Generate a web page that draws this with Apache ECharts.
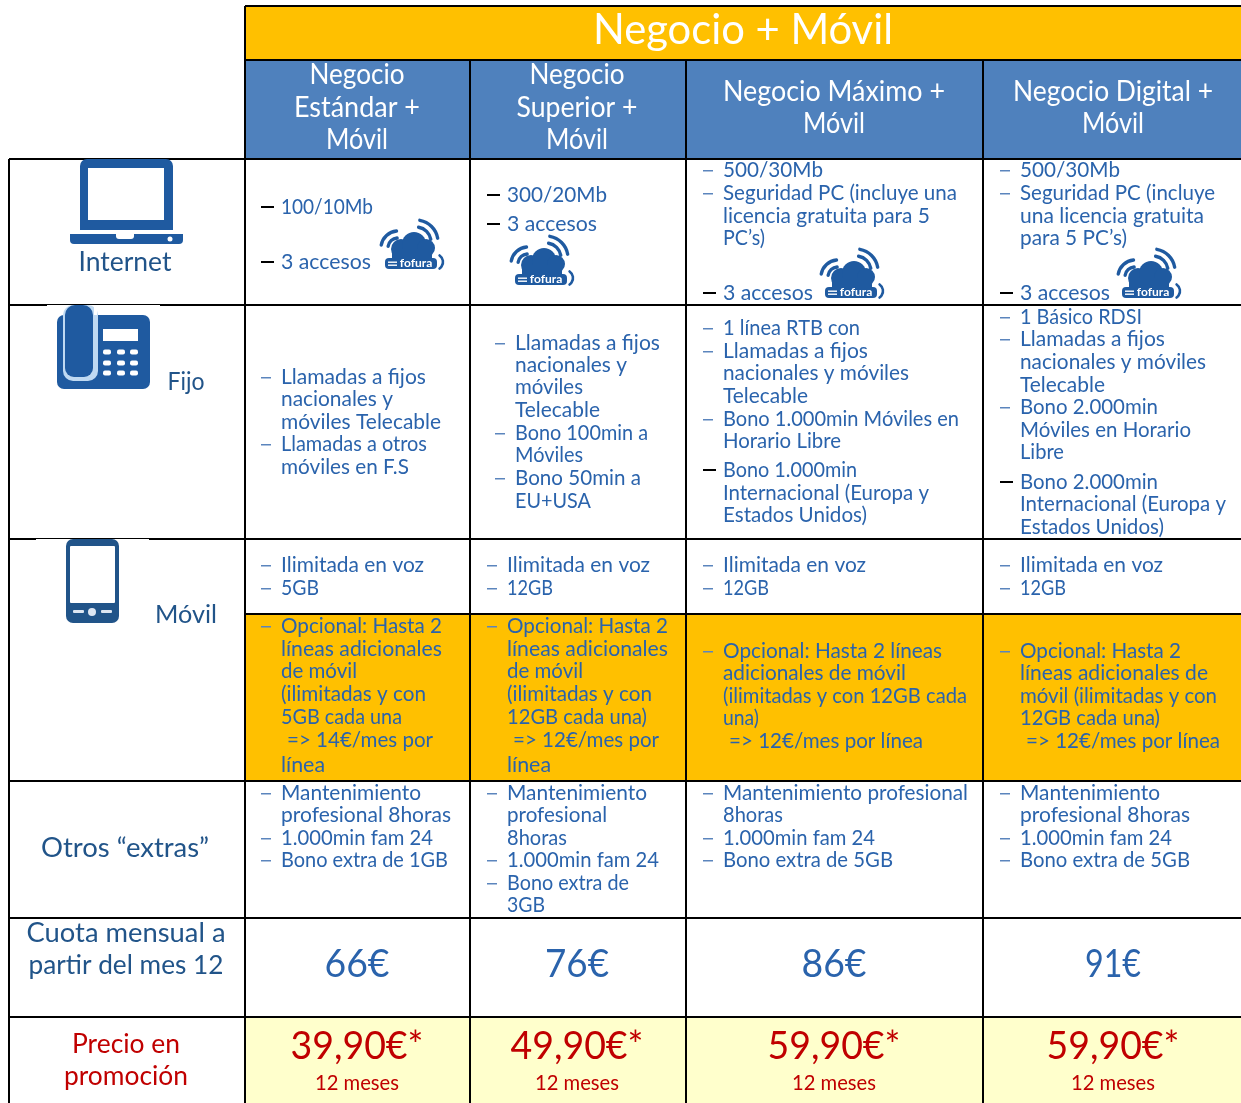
<!DOCTYPE html>
<html><head><meta charset="utf-8">
<style>html,body{margin:0;padding:0;background:#fff;overflow:hidden}#c{width:1241px;height:1103px}</style>
<script src="https://cdn.jsdelivr.net/npm/echarts@6/dist/echarts.min.js"></script>
</head><body><div id="c"></div>
<script>
// ---------- content ----------
const titleText = 'Negocio + Móvil';
const planHeaders = [
  ['Negocio','Estándar +','Móvil'],
  ['Negocio','Superior +','Móvil'],
  ['Negocio Máximo +','Móvil'],
  ['Negocio Digital +','Móvil']
];
// "- " = blue dash, "# " = black dash
const internetCells = [
  ['# 100/10Mb','# 3 accesos'],
  ['# 300/20Mb','# 3 accesos'],
  ['- 500/30Mb','- Seguridad PC (incluye una','licencia gratuita para 5','PC’s)','# 3 accesos'],
  ['- 500/30Mb','- Seguridad PC (incluye','una licencia gratuita','para 5 PC’s)','# 3 accesos']
];
const fijoCells = [
  ['- Llamadas a fijos','nacionales y','móviles Telecable','- Llamadas a otros','móviles en F.S'],
  ['- Llamadas a fijos','nacionales y','móviles','Telecable','- Bono 100min a','Móviles','- Bono 50min a','EU+USA'],
  ['- 1 línea RTB con','- Llamadas a fijos','nacionales y móviles','Telecable','- Bono 1.000min Móviles en','Horario Libre','# Bono 1.000min','Internacional (Europa y','Estados Unidos)'],
  ['- 1 Básico RDSI','- Llamadas a fijos','nacionales y móviles','Telecable','- Bono 2.000min','Móviles en Horario','Libre','# Bono 2.000min','Internacional (Europa y','Estados Unidos)']
];
const movilCells = [
  ['- Ilimitada en voz','- 5GB'],
  ['- Ilimitada en voz','- 12GB'],
  ['- Ilimitada en voz','- 12GB'],
  ['- Ilimitada en voz','- 12GB']
];
const opcionalCells = [
  ['- Opcional: Hasta 2','líneas adicionales','de móvil','(ilimitadas y con','5GB cada una',' => 14€/mes por','línea'],
  ['- Opcional: Hasta 2','líneas adicionales','de móvil','(ilimitadas y con','12GB cada una)',' => 12€/mes por','línea'],
  ['- Opcional: Hasta 2 líneas','adicionales de móvil','(ilimitadas y con 12GB cada','una)',' => 12€/mes por línea'],
  ['- Opcional: Hasta 2','líneas adicionales de','móvil (ilimitadas y con','12GB cada una)',' => 12€/mes por línea']
];
const extrasCells = [
  ['- Mantenimiento','profesional 8horas','- 1.000min fam 24','- Bono extra de 1GB'],
  ['- Mantenimiento','profesional','8horas','- 1.000min fam 24','- Bono extra de','3GB'],
  ['- Mantenimiento profesional','8horas','- 1.000min fam 24','- Bono extra de 5GB'],
  ['- Mantenimiento','profesional 8horas','- 1.000min fam 24','- Bono extra de 5GB']
];
const rowLabels = ['Internet','Fijo','Móvil','Otros “extras”','Cuota mensual a','partir del mes 12'];
const promoLabels = ['Precio en','promoción'];
const monthlyFees = ['66€','76€','86€','91€'];
const promoPrices = ['39,90€*','49,90€*','59,90€*','59,90€*'];
const promoTerm = '12 meses';

// ---------- layout (pixels of the page) ----------
const W = 1241, H = 1103;
const colCenters = [357,577,834,1113];
const textX = [281,507,723,1020];
const dashX = [260,486,702,999];
const fijoTextX = [281,515,723,1020];
const fijoDashX = [260,494,702,999];
const internetY = [[207,262],[195,224],[170,193,216,238,293],[170,193,216,238,293]];
const fijoY = [[377,399,422,444,467],[343,365,387,410,433,455,478,501],[328,351,373,396,419,441,470,493,515],[317,339,362,385,407,430,452,482,504,527]];
const movilY = [[565,588],[565,588],[565,588],[565,588]];
const opcionalY = [[626,649,671,694,717,740,765],[626,649,671,694,717,740,765],[651,673,696,718,741],[651,673,696,718,741]];
const extrasY = [[793,815,838,860],[793,815,838,860,883,905],[793,815,838,860],[793,815,838,860]];
const headerY = [[75,108,140],[75,108,140],[92,124],[92,124]];
const cloudPos = [[380,219],[510,235],[820,248],[1117,248]];
const fills = [
  [245,6,1241,60,'#FFC000'],[245,60,1241,159,'#4F81BD'],
  [245,614,1241,781,'#FFC000'],[245,1017,1241,1103,'#FFFFCC']
];
const hLines = [[245,1241,6],[245,1241,60],[9,1241,159],[9,1241,305],[9,1241,539],[245,1241,614],[9,1241,781],[9,1241,918],[9,1241,1017]];
const vLines = [[9,159,1103],[245,6,1103],[470,60,1103],[686,60,1103],[983,60,1103]];
// widths the lines take up in the reference
const fitWidths = {
  'Negocio + Móvil':300,'Negocio':95,'Estándar +':126,'Superior +':121,'Móvil':62,'Negocio Máximo +':222,'Negocio Digital +':200,
  '100/10Mb':92,'300/20Mb':100,'500/30Mb':100,'3 accesos':90,'Seguridad PC (incluye una':234,'licencia gratuita para 5':207,
  'Seguridad PC (incluye':195,'una licencia gratuita':184,'para 5 PC’s)':107,'PC’s)':42,
  'Llamadas a fijos':145,'nacionales y':112,'móviles Telecable':160,'Llamadas a otros':146,'móviles en F.S':128,'móviles':68,'Telecable':85,
  'Bono 100min a':133,'Móviles':68,'Bono 50min a':126,'EU+USA':76,'1 línea RTB con':137,'nacionales y móviles':186,
  'Bono 1.000min Móviles en':236,'Horario Libre':118,'Bono 1.000min':134,'Internacional (Europa y':206,'Estados Unidos)':144,
  '1 Básico RDSI':122,'Bono 2.000min':138,'Móviles en Horario':171,'Libre':44,'Ilimitada en voz':143,'5GB':38,'12GB':46,
  'Opcional: Hasta 2':161,'líneas adicionales':161,'de móvil':76,'(ilimitadas y con':145,'5GB cada una':121,'12GB cada una)':140,
  '=> 14€/mes por':146,'=> 12€/mes por':146,'línea':44,'Opcional: Hasta 2 líneas':219,'adicionales de móvil':183,
  '(ilimitadas y con 12GB cada':244,'una)':36,'=> 12€/mes por línea':194,'líneas adicionales de':188,'móvil (ilimitadas y con':197,
  'Mantenimiento':140,'profesional 8horas':170,'1.000min fam 24':152,'Bono extra de 1GB':167,'profesional':100,'8horas':60,
  'Bono extra de':122,'3GB':38,'Mantenimiento profesional':245,'Bono extra de 5GB':170,
  'Internet':93,'Fijo':37,'Otros “extras”':168,'Cuota mensual a':199,'partir del mes 12':195,'Precio en':108,'promoción':124,
  '66€':65,'76€':64,'86€':65,'91€':56,'39,90€*':133,'49,90€*':133,'59,90€*':133,'12 meses':84
};

const FONT = 'Lato, "Noto Sans", sans-serif';
const BLUE = '#2A63AC', NAVY = '#215489', RED = '#C00000', ICON = '#1F5AA0';
const meter = document.createElement('canvas').getContext('2d');

// ---------- collect text lines ----------
const textRows = [];
function addText(x,y,text,size,color,align){
  const font = size+'px '+FONT;
  meter.font = font;
  const target = fitWidths[text];
  const sx = target ? target/meter.measureText(text).width : 1;
  textRows.push({value:[x,y],text,font,sx,color,align:align||'left'});
}
const dashRows = [];
function addCells(cells, ys, tx, dx){
  cells.forEach((lines,c)=>lines.forEach((s,i)=>{
    const y = ys[c][i];
    let t = s;
    if (s.startsWith('- ')) { dashRows.push({value:[dx[c],y+1],black:false}); t = s.slice(2); }
    else if (s.startsWith('# ')) { dashRows.push({value:[dx[c],y],black:true}); t = s.slice(2); }
    let x = tx[c];
    if (t.startsWith(' ')) { x += 6; t = t.trim(); }
    addText(x,y,t,21.5,BLUE);
  }));
}
addCells(internetCells, internetY, textX, dashX);
addCells(fijoCells, fijoY, fijoTextX, fijoDashX);
addCells(movilCells, movilY, textX, dashX);
addCells(opcionalCells, opcionalY, textX, dashX);
addCells(extrasCells, extrasY, textX, dashX);
addText(743,30,titleText,43,'#fff','center');
planHeaders.forEach((ls,c)=>ls.forEach((s,i)=>addText(colCenters[c],headerY[c][i],s,28,'#fff','center')));
[[125,263,26],[186,382,25],[186,615,25],[125,848,27],[126,933,27],[126,965,26.5]].forEach((p,i)=>addText(p[0],p[1],rowLabels[i],p[2],NAVY,'center'));
addText(126,1045,promoLabels[0],26,RED,'center');
addText(126,1077,promoLabels[1],26,RED,'center');
monthlyFees.forEach((s,c)=>addText(colCenters[c],964,s,39,BLUE,'center'));
promoPrices.forEach((s,c)=>{addText(colCenters[c],1046,s,39,RED,'center');addText(colCenters[c],1083,promoTerm,21,RED,'center');});

const iconRows = [
  {value:[70,159],name:'laptop'},{value:[57,305],name:'phone'},{value:[66,539],name:'mobile'}
].concat(cloudPos.map(p=>({value:p,name:'cloud'})));

// ---------- icon drawings (offsets from each icon's origin) ----------
const R=(x,y,w,h,f,r)=>({type:'rect',shape:{x,y,width:w,height:h,r:r||0},style:{fill:f}});
const A=(cx,cy,r,a,b,lw,c)=>({type:'arc',shape:{cx,cy,r,startAngle:a*Math.PI/180,endAngle:b*Math.PI/180,clockwise:true},style:{stroke:c||ICON,lineWidth:lw,fill:null,lineCap:'round'}});
const C=(cx,cy,r,f)=>({type:'circle',shape:{cx,cy,r},style:{fill:f}});
function iconChildren(name){
  if(name==='laptop') return [
    R(10,0,93,71,ICON,[7,7,0,0]), R(18,9,76,52,'#fff'),
    R(0,75,113,10,ICON,[0,0,4,4]), R(46,75,18,5,'#fff',[0,0,3,3]), C(100,80,2.5,'#fff')
  ];
  if(name==='phone'){
    const k=[]; [50,64,77].forEach(x=>[47,58,68].forEach(y=>k.push(R(x-4,y-2.5,8,5,'#fff',2))));
    return [R(-10,0,113,1,'#fff'),R(0,10,93,74,ICON,7), R(6,0,35,76,'#BFD9F2',10), R(8,0,28,72,ICON,[10,10,9,9]),
      R(37,0,3,10,'#fff'),R(46,24,35,12,'#fff')].concat(k);
  }
  if(name==='mobile') return [
    R(-30,0,113,1,'#fff'),
    R(0,0,53,84,NAVY,7), R(4,7,45,57,'#fff',1),
    R(7,71,11,3,'#DDE6F2',1), C(26,73,4,'#DDE6F2'), R(35,71,11,3,'#DDE6F2',1)
  ];
  // cloud logo
  return [
    C(21,30,10,ICON),C(34,25,12,ICON),C(46,29,9,ICON),R(12,30,40,10,ICON),
    A(18,29,17,190,265,3.4),A(18,29,10,190,265,3.4),
    A(36,23,22,280,350,3.4),A(36,23,15,280,350,3.4),
    R(5,39,52,11,ICON,4),
    A(55,43,8,-55,55,2.6),
    R(8,42.5,9,1.4,'#fff'),R(8,45.5,9,1.4,'#fff'),
    {type:'text',style:{x:36,y:44.5,text:'fofura',fill:'#fff',font:'bold 12px '+FONT,textAlign:'center',textVerticalAlign:'middle'}}
  ];
}

const chart = echarts.init(document.getElementById('c'),null,{renderer:'canvas',width:W,height:H});
const pt = (api,x,y)=>api.coord([x,y]);
chart.setOption({
  animation:false,
  backgroundColor:'#fff',
  grid:{left:0,right:0,top:0,bottom:0},
  xAxis:{type:'value',min:0,max:W,show:false},
  yAxis:{type:'value',min:0,max:H,inverse:true,show:false},
  tooltip:{show:false},
  series:[
    {type:'custom',name:'fills',coordinateSystem:'cartesian2d',silent:true,clip:false,
     data:fills.map(f=>f.slice(0,4)),
     renderItem(p,api){const f=fills[p.dataIndex];const a=pt(api,f[0],f[1]),b=pt(api,f[2],f[3]);
       return {type:'rect',shape:{x:a[0],y:a[1],width:b[0]-a[0],height:b[1]-a[1]},style:{fill:f[4]}};}},
    {type:'custom',name:'rules',silent:true,clip:false,z:3,
     data:hLines.map(l=>[l[0],l[2],l[1],l[2]]).concat(vLines.map(l=>[l[0],l[1],l[0],l[2]])),
     renderItem(p,api){const a=pt(api,api.value(0),api.value(1)),b=pt(api,api.value(2),api.value(3));
       return {type:'line',shape:{x1:a[0],y1:a[1],x2:b[0],y2:b[1]},style:{stroke:'#000',lineWidth:2}};}},
    {type:'custom',name:'icons',silent:true,clip:false,z:4,
     data:iconRows.map(d=>d.value),
     renderItem(p,api){const a=pt(api,api.value(0),api.value(1));
       return {type:'group',x:a[0],y:a[1],children:iconChildren(iconRows[p.dataIndex].name)};}},
    {type:'custom',name:'dashes',silent:true,clip:false,z:5,
     data:dashRows.map(d=>d.value),
     renderItem(p,api){const d=dashRows[p.dataIndex];const a=pt(api,api.value(0),api.value(1));
       return d.black?{type:'rect',shape:{x:a[0]+1,y:a[1]-1,width:13,height:2},style:{fill:'#000'}}
                     :{type:'rect',shape:{x:a[0]+1,y:a[1]-1,width:10,height:1.5},style:{fill:'#5B85BD'}};}},
    {type:'custom',name:'texts',silent:true,clip:false,z:6,
     data:textRows.map(d=>d.value),
     renderItem(p,api){const d=textRows[p.dataIndex];const a=pt(api,api.value(0),api.value(1));
       return {type:'text',x:a[0],y:a[1],scaleX:d.sx,style:{x:0,y:0,text:d.text,fill:d.color,font:d.font,textAlign:d.align,textVerticalAlign:'middle'}};}}
  ]
});
</script></body></html>
